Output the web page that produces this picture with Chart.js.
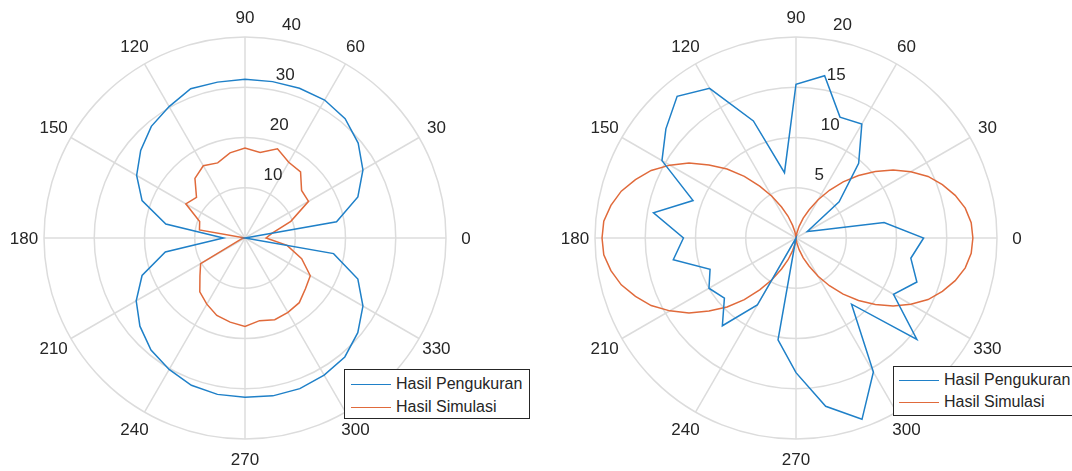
<!DOCTYPE html>
<html>
<head>
<meta charset="utf-8">
<script src="https://cdn.jsdelivr.net/npm/chart.js@4/dist/chart.umd.min.js"></script>
<style>
  html, body { margin: 0; padding: 0; background: #fff; }
  body { width: 1072px; height: 471px; position: relative; overflow: hidden; font-family: "Liberation Sans", Arial, sans-serif; }
  .pane { position: absolute; top: 0; width: 536px; height: 471px; }
  .legend { position: absolute; width: 184px; height: 48px; border: 1px solid #262626; background: #fff; font-size: 16px; color: #262626; }
  .legend .row { position: absolute; left: 6px; height: 20px; line-height: 20px; white-space: nowrap; }
  .legend .sw { display: inline-block; width: 40px; height: 0; border-top: 1.5px solid; vertical-align: middle; margin-right: 5px; }
</style>
</head>
<body>
<div class="pane" style="left:0"><canvas id="left"></canvas></div>
<div class="pane" style="left:536px"><canvas id="right"></canvas></div>

<div class="legend" style="left:344px; top:369px;">
  <div class="row" style="top:4px"><span class="sw" style="border-color:#1f80c8"></span>Hasil Pengukuran</div>
  <div class="row" style="top:27px"><span class="sw" style="border-color:#e06a3b"></span>Hasil Simulasi</div>
</div>
<div class="legend" style="left:893px; top:366px;">
  <div class="row" style="top:3px; left:5px"><span class="sw" style="border-color:#1f80c8"></span>Hasil Pengukuran</div>
  <div class="row" style="top:25px; left:5px"><span class="sw" style="border-color:#e06a3b"></span>Hasil Simulasi</div>
</div>

<script>
// angles in degrees, counter-clockwise from the right (MATLAB polar convention)
const anglesL = [0, 10, 20, 30, 40, 50, 60, 70, 80, 90, 100, 110, 120, 130, 140, 150, 160, 170,
  180, 190, 200, 210, 220, 230, 240, 250, 260, 270, 280, 290, 300, 310, 320, 330, 340, 350];
const anglesR = [0, 5, 10, 15, 20, 25, 30, 35, 40, 45, 50, 55, 60, 65, 70, 75, 80, 85,
  90, 95, 100, 105, 110, 115, 120, 125, 130, 135, 140, 145, 150, 155, 160, 165, 170, 175,
  180, 185, 190, 195, 200, 205, 210, 215, 220, 225, 230, 235, 240, 245, 250, 255, 260, 265,
  270, 275, 280, 285, 290, 295, 300, 305, 310, 315, 320, 325, 330, 335, 340, 345, 350, 355];

// left plot, one value every 10 degrees
const ukurL = [0, 18.5, 23.9, 27.1, 29.4, 31.0, 31.7, 31.7, 31.6, 31.6, 31.5, 31.6, 30.2, 29.0, 27.1, 24.9, 21.8, 16.0,
  4.3, 16.1, 21.8, 25.0, 27.3, 29.1, 30.2, 31.2, 31.6, 31.7, 31.9, 31.9, 31.5, 30.9, 29.3, 27.1, 23.9, 17.9];
const simL = [4.2, 5.5, 9.7, 14.6, 14.7, 17.2, 17.4, 18.9, 17.3, 17.9, 17.2, 15.9, 16.6, 15.5, 12.6, 13.6, 9.6, 9.2,
  0, 0.5, 1.0, 10.2, 11.7, 14.0, 15.2, 16.4, 17.0, 17.6, 16.7, 17.3, 17.1, 16.8, 15.7, 15.0, 12.0, 8.5];

// right plot: measurement every 10 degrees, simulation every 5 degrees
const ukurR = [12.7, 8.9, 2.2, 1.3, 5.6, 9.7, 13.1, 12.8, 16.4, 15.3, 6.6, 12.4, 17.2, 18.4, 16.9, 15.4, 10.9, 14.4,
  11.2, 12.4, 9.1, 10.0, 9.3, 11.4, 7.7, 0, 10.3, 13.4, 17.0, 19.2, 15.4, 8.6, 15.7, 11.2, 12.8, 11.6];
const simR = [17.6, 17.5, 17.1, 16.4, 15.5, 14.5, 13.2, 11.8, 10.3, 8.8, 7.3, 5.8, 4.4, 3.1, 2.1, 1.2, 0.5, 0.1,
  0, 0.1, 0.6, 1.3, 2.3, 3.4, 4.8, 6.3, 8.0, 9.7, 11.3, 13.0, 14.5, 15.9, 17.0, 18.0, 18.7, 19.2,
  19.3, 19.2, 18.7, 18.0, 17.0, 15.9, 14.5, 13.0, 11.3, 9.7, 8.0, 6.3, 4.8, 3.4, 2.3, 1.3, 0.6, 0.1,
  0, 0.1, 0.5, 1.2, 2.1, 3.1, 4.4, 5.8, 7.3, 8.8, 10.3, 11.8, 13.2, 14.5, 15.5, 16.4, 17.1, 17.5];

const ticksL = [10, 20, 30, 40];
const ticksR = [5, 10, 15, 20];

const BLUE = '#1f80c8';
const ORANGE = '#e06a3b';
const GRID = '#dcdcdc';
const TEXT = '#262626';
const FONT = '17px "Liberation Sans", Arial, sans-serif';

// radar goes clockwise from startAngle, so reorder to get counter-clockwise angles
const ccw = arr => arr.map((_, i) => arr[(arr.length - i) % arr.length]);

// MATLAB-like angle labels and r tick labels, placed with the scale's own geometry
const polarText = {
  id: 'polarText',
  afterDraw(chart, args, opts) {
    const r = chart.scales.r;
    const ctx = chart.ctx;
    ctx.save();
    ctx.font = FONT;
    ctx.fillStyle = TEXT;
    ctx.textAlign = 'center';
    ctx.textBaseline = 'middle';
    chart.data.labels.forEach((lab, i) => {
      if (lab % 30 !== 0) return;
      const p = r.getPointPosition(i, r.drawingArea + 20);
      ctx.fillText(String(lab), p.x, p.y + 1);
    });
    ctx.textAlign = 'left';
    const a = 83 * Math.PI / 180;
    opts.ticks.forEach(v => {
      const d = r.getDistanceFromCenterForValue(v);
      ctx.fillText(String(v), r.xCenter + d * Math.cos(a) + 12.5, r.yCenter - d * Math.sin(a) - 13);
    });
    ctx.restore();
  }
};

function polar(id, labels, sets, rmax, step, ticks, pad) {
  return new Chart(document.getElementById(id), {
    type: 'radar',
    data: {
      labels: labels,
      datasets: sets.map(s => ({
        label: s.label,
        data: s.data,
        borderColor: s.color,
        borderWidth: 1.5,
        pointRadius: 0,
        pointHoverRadius: 0,
        fill: false,
        tension: 0,
        spanGaps: true
      }))
    },
    options: {
      responsive: true,
      maintainAspectRatio: false,
      animation: false,
      layout: { padding: pad },
      plugins: {
        legend: { display: false },
        tooltip: { enabled: false },
        polarText: { ticks: ticks }
      },
      scales: {
        r: {
          min: 0,
          max: rmax,
          startAngle: 90,
          ticks: { display: false, stepSize: step },
          pointLabels: { display: false },
          grid: { circular: true, color: GRID, lineWidth: 1.5 },
          angleLines: {
            color: GRID,
            lineWidth: c => (labels[c.index] % 30 === 0 ? 1.5 : 0)
          }
        }
      }
    },
    plugins: [polarText]
  });
}

const labL = ccw(anglesL);
polar('left', labL, [
  { label: 'Hasil Pengukuran', data: ccw(ukurL), color: BLUE },
  { label: 'Hasil Simulasi', data: ccw(simL), color: ORANGE }
], 40, 10, ticksL, { left: 44, right: 90, top: 37, bottom: 32 });

const labR = ccw(anglesR);
const ukurR5 = anglesR.map(a => (a % 10 === 0 ? ukurR[a / 10] : null));
polar('right', labR, [
  { label: 'Hasil Pengukuran', data: ccw(ukurR5), color: BLUE },
  { label: 'Hasil Simulasi', data: ccw(simR), color: ORANGE }
], 20, 5, ticksR, { left: 59, right: 75, top: 37, bottom: 32 });
</script>
</body>
</html>
